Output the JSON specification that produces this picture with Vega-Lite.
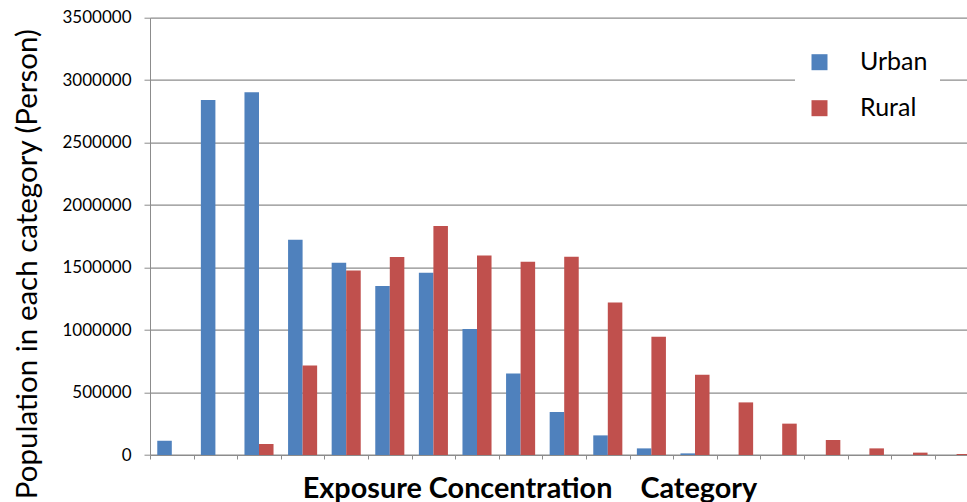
{
  "$schema": "https://vega.github.io/schema/vega-lite/v6.json",
  "width": 817,
  "height": 437.3,
  "autosize": {"type": "none"},
  "padding": {"left": 150, "top": 17.7, "right": 0, "bottom": 47},
  "background": "white",
  "config": {
    "view": {"stroke": null},
    "font": "Lato"
  },
  "data": {
    "values": [
      {"category": "1", "area": "Urban", "population": 114000},
      {"category": "1", "area": "Rural", "population": 0},
      {"category": "2", "area": "Urban", "population": 2842000},
      {"category": "2", "area": "Rural", "population": 0},
      {"category": "3", "area": "Urban", "population": 2904000},
      {"category": "3", "area": "Rural", "population": 88000},
      {"category": "4", "area": "Urban", "population": 1722000},
      {"category": "4", "area": "Rural", "population": 717000},
      {"category": "5", "area": "Urban", "population": 1538000},
      {"category": "5", "area": "Rural", "population": 1477000},
      {"category": "6", "area": "Urban", "population": 1352000},
      {"category": "6", "area": "Rural", "population": 1584000},
      {"category": "7", "area": "Urban", "population": 1459000},
      {"category": "7", "area": "Rural", "population": 1832000},
      {"category": "8", "area": "Urban", "population": 1008000},
      {"category": "8", "area": "Rural", "population": 1597000},
      {"category": "9", "area": "Urban", "population": 653000},
      {"category": "9", "area": "Rural", "population": 1547000},
      {"category": "10", "area": "Urban", "population": 344000},
      {"category": "10", "area": "Rural", "population": 1587000},
      {"category": "11", "area": "Urban", "population": 157000},
      {"category": "11", "area": "Rural", "population": 1221000},
      {"category": "12", "area": "Urban", "population": 53000},
      {"category": "12", "area": "Rural", "population": 947000},
      {"category": "13", "area": "Urban", "population": 13000},
      {"category": "13", "area": "Rural", "population": 643000},
      {"category": "14", "area": "Urban", "population": 0},
      {"category": "14", "area": "Rural", "population": 421000},
      {"category": "15", "area": "Urban", "population": 0},
      {"category": "15", "area": "Rural", "population": 251000},
      {"category": "16", "area": "Urban", "population": 0},
      {"category": "16", "area": "Rural", "population": 120000},
      {"category": "17", "area": "Urban", "population": 0},
      {"category": "17", "area": "Rural", "population": 53000},
      {"category": "18", "area": "Urban", "population": 0},
      {"category": "18", "area": "Rural", "population": 19000},
      {"category": "19", "area": "Urban", "population": 0},
      {"category": "19", "area": "Rural", "population": 8000}
    ]
  },
  "mark": {"type": "bar"},
  "encoding": {
    "x": {
      "field": "category",
      "type": "ordinal",
      "sort": null,
      "scale": {"paddingInner": 0, "paddingOuter": 0, "range": [0, 828.4]},
      "axis": {
        "title": "Exposure Concentration\u00a0\u00a0\u00a0\u00a0Category",
        "labels": false,
        "tickBand": "extent",
        "domainColor": "#8c8c8c",
        "tickColor": "#8c8c8c",
        "tickSize": 4,
        "titleFont": "Lato",
        "titleFontSize": 28.8,
        "titleFontWeight": "bold",
        "titleColor": "#000000",
        "titleX": 379.5,
        "titleY": 42,
        "titleAlign": "center",
        "titleBaseline": "alphabetic"
      }
    },
    "xOffset": {
      "field": "area",
      "type": "nominal",
      "sort": ["Urban", "Rural"],
      "scale": {"paddingInner": 0, "paddingOuter": 0.5}
    },
    "y": {
      "field": "population",
      "type": "quantitative",
      "scale": {"domain": [0, 3500000], "nice": false},
      "axis": {
        "title": "Population in each category (Person)",
        "values": [0, 500000, 1000000, 1500000, 2000000, 2500000, 3000000, 3500000],
        "format": "d",
        "labelFont": "Lato",
        "labelFontSize": 17,
        "labelColor": "#000000",
        "labelPadding": 13,
        "tickSize": 6,
        "tickColor": "#8c8c8c",
        "domainColor": "#8c8c8c",
        "grid": true,
        "gridColor": "#8c8c8c",
        "gridWidth": 1.3,
        "titleFont": "Lato",
        "titleFontSize": 29.5,
        "titleFontWeight": "normal",
        "titleColor": "#000000",
        "titleAngle": -90,
        "titleX": -114,
        "titleY": 246,
        "titleAlign": "center",
        "titleBaseline": "alphabetic"
      }
    },
    "color": {
      "field": "area",
      "type": "nominal",
      "sort": ["Urban", "Rural"],
      "scale": {"domain": ["Urban", "Rural"], "range": ["#4F81BD", "#C0504D"]},
      "legend": {
        "title": null,
        "orient": "none",
        "legendX": 645,
        "legendY": 20,
        "fillColor": "white",
        "padding": 12,
        "symbolType": "square",
        "symbolSize": 256,
        "symbolStrokeWidth": 0,
        "labelFont": "Lato",
        "labelFontSize": 25,
        "labelColor": "#000000",
        "labelOffset": 28,
        "rowPadding": 20
      }
    }
  }
}
